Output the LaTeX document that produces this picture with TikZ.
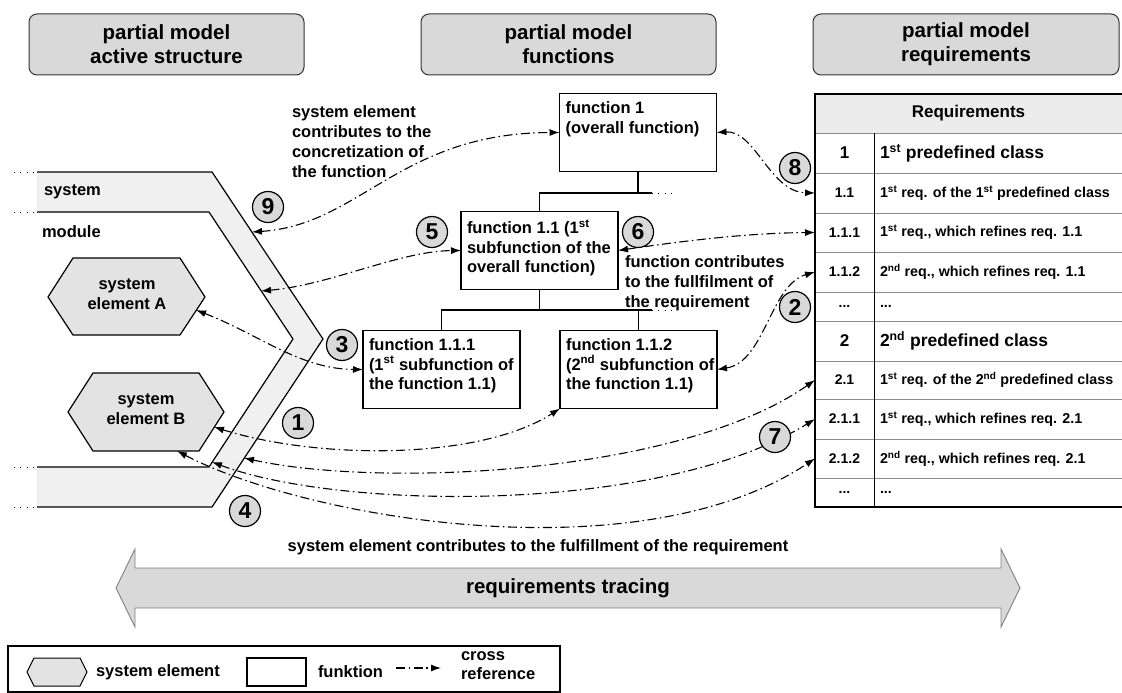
\documentclass[tikz,border=0pt]{standalone}
\usepackage{fontspec}
\setmainfont{Liberation Sans}
\usetikzlibrary{arrows.meta}
\definecolor{hdrgrey}{HTML}{D9D9D9}
\definecolor{bandgrey}{HTML}{F0F0F0}
\definecolor{hexgrey}{HTML}{E3E3E3}
\definecolor{tblhead}{HTML}{ECECEC}
\definecolor{rowline}{HTML}{8C8C8C}
\definecolor{arrowedge}{HTML}{808080}
\newcommand{\fsz}[2]{\fontsize{#1}{#2}\selectfont\bfseries}
\begin{document}
\begin{tikzpicture}[x=1pt,y=-1pt,
  every node/.style={inner sep=0pt,outer sep=0pt},
  header/.style={draw=black!80, line width=1pt, fill=hdrgrey, rounded corners=8pt,
    minimum height=61pt, align=center, font=\fsz{20.5}{24}},
  fbox/.style={draw, line width=1.2pt, fill=white, minimum width=157pt, minimum height=78pt},
  ftext/.style={anchor=north west, align=left, font=\fsz{16.5}{19.7}},
  lbl/.style={align=left, font=\fsz{16.5}{19.7}},
  numcell/.style={minimum width=59pt, minimum height=38pt, font=\fsz{14}{16}},
  desc/.style={anchor=west, font=\fsz{14.3}{16}},
  band/.style={line width=1.2pt},
  hexa/.style={draw, line width=1.2pt, fill=hexgrey},
  xref/.style={line width=1.1pt, dash pattern=on 9pt off 3.5pt on 1.5pt off 3.5pt,
    {Latex[length=10pt,width=7pt]}-{Latex[length=10pt,width=7pt]}},
  xrefone/.style={line width=1.1pt, dash pattern=on 9pt off 3.5pt on 1.5pt off 3.5pt,
    -{Latex[length=10pt,width=7pt]}},
  numc/.style={circle, draw, line width=1.2pt, fill=hdrgrey, minimum size=31pt, font=\fsz{23}{23}},
  tree/.style={line width=1.2pt},
  dotline/.style={line width=1pt, dash pattern=on 0.8pt off 5.5pt},
]
\useasboundingbox (0,0) rectangle (1122,693);

% column headers
\node[header, minimum width=275pt] (hdrA) at (166.5,44.5) {partial model\\active structure};
\node[header, minimum width=295pt] (hdrF) at (568.5,44.5) {partial model\\functions};
\node[header, minimum width=306pt] (hdrR) at (966,44.5) {partial model\\requirements};

% system / module band
\fill[bandgrey] (37,172) -- (212,172) -- (323,339) -- (212,507) -- (37,507) -- (37,467)
  -- (209,467) -- (293,339) -- (209,212) -- (37,212) -- cycle;
\draw[band] (37,172) -- (212,172) -- (323,339) -- (212,507) -- (37,507);
\draw[band] (37,212) -- (209,212) -- (293,339) -- (209,467) -- (37,467);
\foreach \yy in {172,212,467,507} \draw[dotline] (14,\yy) -- (36,\yy);
\node[lbl, anchor=west] (lsys) at (44,192) {system};
\node[lbl, anchor=west] (lmod) at (42,232) {module};

% system elements
\draw[hexa] (48,297) -- (73,258) -- (180,258) -- (205,297) -- (180,335) -- (73,335) -- cycle;
\node[lbl, align=center] (elA) at (127,294) {system\\element A};
\draw[hexa] (68,412) -- (93,373) -- (199,373) -- (224,412) -- (199,451) -- (93,451) -- cycle;
\node[lbl, align=center] (elB) at (146,409) {system\\element B};

% connector ends on the band and the elements
\coordinate (sys9) at (252,232);
\coordinate (mod5) at (261,291);
\coordinate (sysLo) at (244,458);
\coordinate (modLo) at (212,462);
\coordinate (elAp) at (196,310);
\coordinate (elBp) at (214,427);
\coordinate (elBq) at (177,451);

% function tree
\node[fbox] (f1) at (638,132.5) {};
\node[ftext] (f1t) at ([shift={(6,8)}]f1.north west) {function 1\\(overall function)};
\node[fbox] (f11) at (539.5,250.5) {};
\node[ftext] (f11t) at ([shift={(6,8)}]f11.north west) {function 1.1 (1\textsuperscript{st}\\subfunction of the\\overall function)};
\node[fbox] (f111) at (441.5,369.5) {};
\node[ftext] (f111t) at ([shift={(6,8)}]f111.north west) {function 1.1.1\\(1\textsuperscript{st} subfunction of\\the function 1.1)};
\node[fbox] (f112) at (638.5,369.5) {};
\node[ftext] (f112t) at ([shift={(6,8)}]f112.north west) {function 1.1.2\\(2\textsuperscript{nd} subfunction of\\the function 1.1)};

\coordinate (t1e) at (652,193);
\coordinate (t1d) at (673,193);
\coordinate (t2e) at (652,310);
\coordinate (t2d) at (673,310);
\draw[tree] (f1.south) -- (f1.south |- t1e);
\draw[tree] (f11.north) |- (t1e);
\draw[dotline] (t1e) -- (t1d);
\draw[tree] (f11.south) -- (f11.south |- t2e);
\draw[tree] (f111.north) |- (t2e);
\draw[tree] (f112.north) -- (f112.north |- t2e);
\draw[dotline] (t2e) -- (t2d);

% requirements table
\fill[tblhead] (815,94) rectangle (1122,133);
\foreach \yy in {133,173,213,252,292,321,361,399,439,478}
  \draw[rowline, line width=1pt] (815,\yy) -- (1122,\yy);
\draw[line width=1pt] (874,133) -- (874,507);
\draw[line width=1.4pt] (1122,94) -- (815,94) -- (815,507) -- (1122,507);
\node[font=\fsz{17}{20}] (rhead) at (968.5,113.5) {Requirements};

\node[numcell, font=\fsz{17}{20}] (r1) at (844.5,153) {1};
\node[desc, font=\fsz{17.5}{20}] (r1d) at (880,153) {1\textsuperscript{st} predefined class};
\node[numcell] (r11) at (844.5,193) {1.1};
\node[desc] (r11d) at (880,193) {1\textsuperscript{st} req. of the 1\textsuperscript{st} predefined class};
\node[numcell] (r111) at (844.5,232.5) {1.1.1};
\node[desc] (r111d) at (880,232.5) {1\textsuperscript{st} req., which refines req. 1.1};
\node[numcell] (r112) at (844.5,272) {1.1.2};
\node[desc] (r112d) at (880,272) {2\textsuperscript{nd} req., which refines req. 1.1};
\node[numcell, minimum height=28pt] (rx1) at (844.5,306) {...};
\node[desc] (rx1d) at (880,306) {...};
\node[numcell, font=\fsz{17}{20}] (r2) at (844.5,341) {2};
\node[desc, font=\fsz{17.5}{20}] (r2d) at (880,341) {2\textsuperscript{nd} predefined class};
\node[numcell] (r21) at (844.5,380) {2.1};
\node[desc] (r21d) at (880,380) {1\textsuperscript{st} req. of the 2\textsuperscript{nd} predefined class};
\node[numcell] (r211) at (844.5,419) {2.1.1};
\node[desc] (r211d) at (880,419) {1\textsuperscript{st} req., which refines req. 2.1};
\node[numcell] (r212) at (844.5,458.5) {2.1.2};
\node[desc] (r212d) at (880,458.5) {2\textsuperscript{nd} req., which refines req. 2.1};
\node[numcell, minimum height=28pt] (rx2) at (844.5,492) {...};
\node[desc] (rx2d) at (880,492) {...};

% explanatory labels
\node[lbl, anchor=north west] (lconc) at (292,106) {system element\\contributes to the\\concretization of\\the function};
\node[lbl, anchor=north west] (lfulf) at (625,256) {function contributes\\to the fullfilment of\\the requirement};

% cross references
\draw[xref] (sys9) .. controls (360,225) and (400,133) .. (f1.west);
\draw[xref] (mod5) .. controls (330,285) and (400,251) .. (f11.west);
\draw[xref] (f11.east) .. controls (690,240) and (750,233) .. (r111.west);
\draw[xref] (f1.east) .. controls (755,130) and (770,192) .. (r11.west);
\draw[xref] (f112.east) .. controls (765,362) and (770,285) .. (r112.west);
\draw[xref] (elAp) .. controls (260,335) and (300,369) .. (f111.west);
\draw[xref] (elBp) .. controls (320,460) and (480,460) .. (f112.south west);
\draw[xref] (sysLo) .. controls (380,488) and (680,475) .. (r21.west);
\draw[xref] (modLo) .. controls (340,510) and (660,515) .. (r211.west);
\draw[xref] (elBq) .. controls (310,520) and (640,575) .. (r212.west);

% numbered markers
\node[numc] (n1) at (298,423) {1};
\node[numc] (n2) at (795,307) {2};
\node[numc] (n3) at (342,345) {3};
\node[numc] (n4) at (245,511) {4};
\node[numc] (n5) at (432,232) {5};
\node[numc] (n6) at (638,232) {6};
\node[numc] (n7) at (775,437) {7};
\node[numc] (n8) at (795,168) {8};
\node[numc] (n9) at (268,207) {9};

% requirements tracing arrow
\node[lbl, align=center] (lsef) at (538,547) {system element contributes to the fulfillment of the requirement};
\draw[draw=arrowedge, fill=hdrgrey, line width=0.9pt] (116,588) -- (135,549) -- (135,568) -- (1001,568)
  -- (1001,549) -- (1020,588) -- (1001,627) -- (1001,608) -- (135,608) -- (135,627) -- cycle;
\node[font=\fsz{20.5}{24}] (ltrace) at (568,588) {requirements tracing};

% legend
\draw[line width=1.3pt] (8,646) rectangle (560,692);
\draw[hexa, line width=1pt] (27,672) -- (34,658) -- (80,658) -- (87,672) -- (80,686) -- (34,686) -- cycle;
\node[lbl, anchor=west] (lgse) at (96,672) {system element};
\node[draw, line width=1.1pt, minimum width=59pt, minimum height=28pt] (lgbox) at (276.5,672) {};
\node[lbl, anchor=west] (lgfn) at (318,672) {funktion};
\coordinate (lga) at (396,668);
\coordinate (lgb) at (441,668);
\draw[xrefone] (lga) -- (lgb);
\node[lbl, anchor=west, font=\fsz{16.5}{18.5}] (lgcr) at (461,665.5) {cross\\reference};
\end{tikzpicture}
\end{document}
